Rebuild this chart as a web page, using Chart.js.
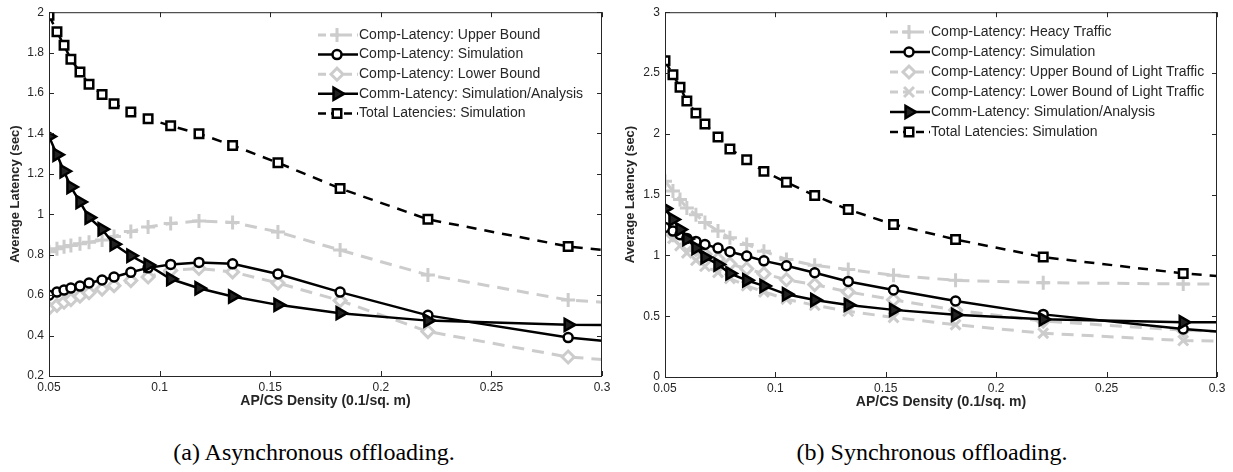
<!DOCTYPE html>
<html>
<head>
<meta charset="utf-8">
<script src="https://cdn.jsdelivr.net/npm/chart.js@4.4.0/dist/chart.umd.min.js"></script>
<style>
  html, body { margin: 0; padding: 0; background: #fff; }
  #wrap { position: relative; width: 1233px; height: 472px; overflow: hidden; }
  .pane { position: absolute; top: 0; }
  .cap { position: absolute; top: 439px; font-family: "Liberation Serif", "DejaVu Serif", serif; font-size: 24px; color: #000; white-space: nowrap; transform: translateX(-50%); }
</style>
</head>
<body>
<div id="wrap">
  <div class="pane" style="left:0;width:615px;height:417px"><canvas id="chartA"></canvas></div>
  <div class="pane" style="left:615px;width:618px;height:418px"><canvas id="chartB"></canvas></div>
  <div class="cap" style="left:314px">(a) Asynchronous offloading.</div>
  <div class="cap" style="left:932px">(b) Synchronous offloading.</div>
</div>
<script>
// AP/CS density (0.1/sq. m), same sample points in both panels
var density = [0.05, 0.0536, 0.0568, 0.0599, 0.064, 0.0681, 0.074, 0.0794, 0.087, 0.0948, 0.105, 0.1178, 0.133, 0.1535, 0.1816, 0.2213, 0.2847, 0.3];

// (a) asynchronous offloading
var asyncUpper = [0.815, 0.83, 0.84, 0.846, 0.854, 0.862, 0.873, 0.89, 0.915, 0.937, 0.955, 0.967, 0.96, 0.913, 0.823, 0.70, 0.576, 0.565];
var asyncSim   = [0.60, 0.615, 0.625, 0.635, 0.645, 0.66, 0.675, 0.69, 0.713, 0.735, 0.752, 0.762, 0.755, 0.705, 0.615, 0.50, 0.39, 0.375];
var asyncLower = [0.535, 0.55, 0.565, 0.578, 0.595, 0.612, 0.63, 0.647, 0.672, 0.69, 0.722, 0.732, 0.715, 0.66, 0.573, 0.42, 0.294, 0.282];
var asyncComm  = [1.385, 1.295, 1.213, 1.135, 1.061, 0.984, 0.926, 0.852, 0.795, 0.749, 0.68, 0.634, 0.593, 0.552, 0.511, 0.474, 0.453, 0.452];
var asyncTotal = [1.985, 1.903, 1.836, 1.767, 1.704, 1.644, 1.593, 1.547, 1.506, 1.473, 1.438, 1.399, 1.341, 1.255, 1.128, 0.975, 0.841, 0.824];

// (b) synchronous offloading
var syncHeavy  = [1.61, 1.53, 1.46, 1.39, 1.335, 1.27, 1.2, 1.145, 1.09, 1.035, 0.967, 0.918, 0.885, 0.836, 0.795, 0.776, 0.765, 0.765];
var syncSim    = [1.23, 1.2, 1.17, 1.14, 1.115, 1.09, 1.06, 1.03, 0.995, 0.955, 0.915, 0.857, 0.786, 0.715, 0.625, 0.515, 0.395, 0.375];
var syncUpperL = [1.22, 1.17, 1.13, 1.09, 1.05, 1.01, 0.97, 0.93, 0.89, 0.85, 0.80, 0.76, 0.70, 0.635, 0.55, 0.46, 0.385, 0.375];
var syncLowerL = [1.21, 1.14, 1.08, 1.02, 0.96, 0.91, 0.86, 0.81, 0.75, 0.70, 0.64, 0.59, 0.54, 0.49, 0.43, 0.36, 0.30, 0.295];
var syncComm   = [1.385, 1.295, 1.213, 1.135, 1.061, 0.984, 0.926, 0.852, 0.795, 0.749, 0.68, 0.634, 0.593, 0.552, 0.511, 0.474, 0.450, 0.450];
var syncTotal  = [2.6, 2.485, 2.383, 2.27, 2.17, 2.08, 1.973, 1.875, 1.787, 1.691, 1.601, 1.492, 1.377, 1.254, 1.131, 0.986, 0.852, 0.83];

var GRAY = '#cccccc', BLACK = '#000000', AXIS = '#262626';
var SANS = '"Liberation Sans", Arial, Helvetica, sans-serif';

function pts(ys) {
  return density.map(function (x, i) { return { x: x, y: ys[i] }; });
}

// marker presets, MATLAB-ish
var styles = {
  plus:    { pointStyle: 'cross',    radius: 7,   bw: 3,   color: GRAY,  fill: GRAY,  dash: [12, 8], lw: 3 },
  circle:  { pointStyle: 'circle',   radius: 4.5, bw: 2.5, color: BLACK, fill: '#fff', dash: [], lw: 2.5 },
  diamond: { pointStyle: 'rectRot',  radius: 6,   bw: 3,   color: GRAY,  fill: '#fff', dash: [12, 8], lw: 3 },
  cross:   { pointStyle: 'crossRot', radius: 7,   bw: 3,   color: GRAY,  fill: GRAY,  dash: [12, 8], lw: 3 },
  tri:     { pointStyle: 'triangle', radius: 7,   bw: 2.5, color: BLACK, fill: '#222', dash: [], lw: 2.5, rot: 90 },
  square:  { pointStyle: 'rect',     radius: 6,   bw: 2.5, color: BLACK, fill: '#fff', dash: [10, 8], lw: 2.5 }
};

function series(label, ys, kind, order) {
  var s = styles[kind];
  return {
    label: label,
    data: pts(ys),
    borderColor: s.color,
    backgroundColor: s.fill,
    borderWidth: s.lw,
    borderDash: s.dash,
    pointStyle: s.pointStyle,
    pointRotation: s.rot || 0,
    pointBorderWidth: s.bw,
    pointBorderColor: s.color,
    pointBackgroundColor: s.fill,
    pointRadius: function (c) { return c.raw && c.raw.x >= 0.3 ? 0 : s.radius; },
    tension: 0,
    fill: false,
    order: order
  };
}

// frame + inward ticks on all four sides, like MATLAB
var boxPlugin = {
  id: 'box',
  afterDraw: function (chart) {
    var ctx = chart.ctx, a = chart.chartArea, x = chart.scales.x, y = chart.scales.y;
    ctx.save();
    ctx.strokeStyle = AXIS;
    ctx.lineWidth = 1;
    ctx.strokeRect(a.left + 0.5, a.top + 0.5, a.right - a.left - 1, a.bottom - a.top);
    ctx.beginPath();
    x.ticks.forEach(function (t) {
      var p = Math.round(x.getPixelForValue(t.value)) + 0.5;
      ctx.moveTo(p, a.bottom); ctx.lineTo(p, a.bottom - 5);
      ctx.moveTo(p, a.top); ctx.lineTo(p, a.top + 5);
    });
    y.ticks.forEach(function (t) {
      var p = Math.round(y.getPixelForValue(t.value)) + 0.5;
      ctx.moveTo(a.left, p); ctx.lineTo(a.left + 5, p);
      ctx.moveTo(a.right, p); ctx.lineTo(a.right - 5, p);
    });
    ctx.stroke();
    ctx.restore();
  }
};

// legend inside the axes, line sample with marker in the middle
var innerLegend = {
  id: 'innerLegend',
  afterDraw: function (chart, args, opts) {
    var ctx = chart.ctx;
    ctx.save();
    ctx.font = '14px ' + SANS;
    ctx.textBaseline = 'middle';
    chart.data.datasets.forEach(function (ds, i) {
      var yy = opts.y + i * opts.dy, x0 = opts.x, x1 = opts.x + 40, xm = opts.x + 19;
      ctx.strokeStyle = ds.borderColor;
      ctx.lineWidth = ds.borderWidth;
      ctx.setLineDash(ds.borderDash.length ? [8, 5] : []);
      ctx.beginPath(); ctx.moveTo(x0, yy); ctx.lineTo(x1, yy); ctx.stroke();
      ctx.setLineDash([]);
      ctx.lineWidth = ds.pointBorderWidth;
      ctx.fillStyle = ds.pointBackgroundColor;
      Chart.helpers.drawPoint(ctx, {
        pointStyle: ds.pointStyle, rotation: ds.pointRotation,
        radius: ds.pointRadius({ raw: { x: 0 } }), borderWidth: ds.pointBorderWidth
      }, xm, yy);
      ctx.fillStyle = AXIS;
      ctx.fillText(ds.label, x1 + 1, yy);
    });
    ctx.restore();
  }
};

function makeChart(id, datasets, yMin, yMax, yStep, yAxisW, padRight, legendPos) {
  return new Chart(document.getElementById(id), {
    type: 'line',
    data: { datasets: datasets },
    options: {
      responsive: true,
      maintainAspectRatio: false,
      animation: false,
      layout: { padding: { left: 0, top: 12, right: padRight, bottom: 0 } },
      plugins: {
        legend: { display: false },
        tooltip: { enabled: false },
        innerLegend: legendPos
      },
      scales: {
        x: {
          type: 'linear',
          min: 0.05, max: 0.3,
          afterBuildTicks: function (s) {
            s.ticks = [0.05, 0.1, 0.15, 0.2, 0.25, 0.3].map(function (v) { return { value: v }; });
          },
          afterFit: function (s) { s.height = 41; },
          grid: { display: false, drawTicks: false },
          border: { display: false },
          ticks: { color: AXIS, font: { family: SANS, size: 12 }, padding: 4, maxRotation: 0,
                   callback: function (v) { return String(+v.toFixed(2)); } },
          title: { display: true, text: 'AP/CS Density (0.1/sq. m)', color: AXIS,
                   font: { family: SANS, size: 14, weight: 'bold' }, padding: { top: 0, bottom: 7 } }
        },
        y: {
          min: yMin, max: yMax,
          afterFit: function (s) { s.width = yAxisW; },
          grid: { display: false, drawTicks: false },
          border: { display: false },
          ticks: { stepSize: yStep, color: AXIS, font: { family: SANS, size: 12 }, padding: 5,
                   callback: function (v) { return String(+v.toFixed(1)); } },
          title: { display: true, text: 'Average Latency (sec)', color: AXIS,
                   font: { family: SANS, size: 13, weight: 'bold' }, padding: { top: 8, bottom: 0 } }
        }
      }
    },
    plugins: [boxPlugin, innerLegend]
  });
}

makeChart('chartA', [
  series('Comp-Latency: Upper Bound', asyncUpper, 'plus', 5),
  series('Comp-Latency: Simulation', asyncSim, 'circle', 2),
  series('Comp-Latency: Lower Bound', asyncLower, 'diamond', 4),
  series('Comm-Latency: Simulation/Analysis', asyncComm, 'tri', 1),
  series('Total Latencies: Simulation', asyncTotal, 'square', 3)
], 0.2, 2, 0.2, 49, 13, { x: 318, y: 35, dy: 19.6 });

makeChart('chartB', [
  series('Comp-Latency: Heacy Traffic', syncHeavy, 'plus', 6),
  series('Comp-Latency: Simulation', syncSim, 'circle', 2),
  series('Comp-Latency: Upper Bound of Light Traffic', syncUpperL, 'diamond', 5),
  series('Comp-Latency: Lower Bound of Light Traffic', syncLowerL, 'cross', 4),
  series('Comm-Latency: Simulation/Analysis', syncComm, 'tri', 1),
  series('Total Latencies: Simulation', syncTotal, 'square', 3)
], 0, 3, 0.5, 50, 16, { x: 275, y: 32, dy: 20 });
</script>
</body>
</html>
